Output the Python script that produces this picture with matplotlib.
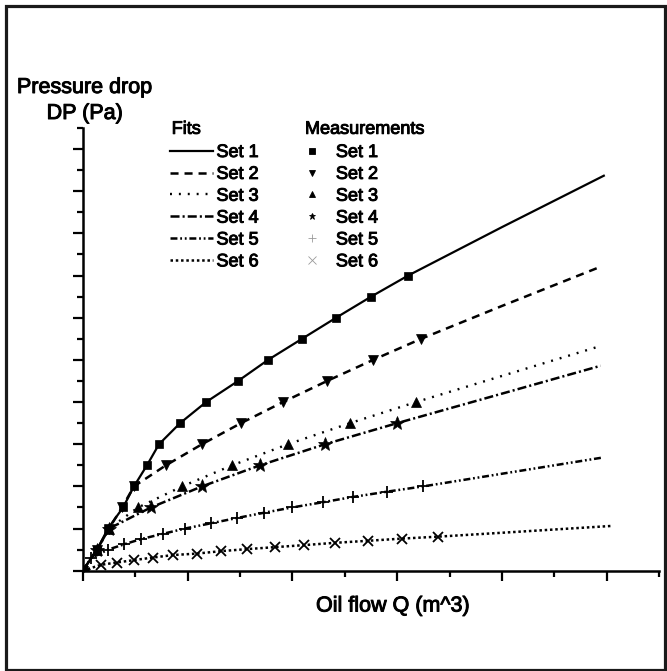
import matplotlib.pyplot as plt
import matplotlib.patheffects as pe
from matplotlib.lines import Line2D
from matplotlib.patches import Rectangle
from matplotlib.ticker import MultipleLocator

plt.rcParams['font.family'] = ['Liberation Sans', 'DejaVu Sans']
plt.rcParams['lines.scale_dashes'] = False

q1 = [0, 0.137, 0.241, 0.385, 0.489, 0.613, 0.728, 0.929, 1.177, 1.482, 1.768, 2.092, 2.417, 2.751, 3.104]
dp1 = [0, 0.5, 1.0, 1.5, 2.0, 2.5, 3.0, 3.5, 4.0, 4.5, 5.0, 5.5, 6.0, 6.5, 7.0]
q2 = [0, 0.137, 0.251, 0.375, 0.489, 0.794, 1.138, 1.51, 1.911, 2.331, 2.77, 3.228]
dp2 = [0, 0.5, 1.0, 1.5, 2.0, 2.5, 3.0, 3.5, 4.0, 4.5, 5.0, 5.5]
q3 = [0, 0.137, 0.251, 0.528, 0.949, 1.426, 1.958, 2.55, 3.18]
dp3 = [0, 0.5, 1.0, 1.5, 2.0, 2.5, 3.0, 3.5, 4.0]
q4 = [0, 0.137, 0.251, 0.651, 1.138, 1.692, 2.312, 3.0]
dp4 = [0, 0.5, 1.0, 1.5, 2.0, 2.5, 3.0, 3.5]
q5 = [0, 0.08, 0.242, 0.394, 0.556, 0.766, 0.976, 1.224, 1.472, 1.73, 1.997, 2.293, 2.579, 2.904, 3.248]
dp5 = [0, 0.3, 0.5, 0.625, 0.75, 0.875, 1.0, 1.125, 1.25, 1.375, 1.5, 1.625, 1.75, 1.875, 2.0]
q6 = [0, 0.175, 0.324, 0.49, 0.671, 0.865, 1.086, 1.32, 1.568, 1.835, 2.114, 2.405, 2.719, 3.044, 3.393]
dp6 = [0, 0.14, 0.194, 0.251, 0.313, 0.372, 0.405, 0.464, 0.512, 0.559, 0.607, 0.661, 0.709, 0.761, 0.808]

# fitted curves beyond the last measurement
fit_end_q1 = [4.0, 4.98]
fit_end_dp1 = [8.15, 9.38]
fit_end_q2 = [4.0, 4.93]
fit_end_dp2 = [6.28, 7.2]
fit_end_q3 = [4.0, 4.94]
fit_end_dp3 = [4.62, 5.33]
fit_end_q4 = [4.0, 4.94]
fit_end_dp4 = [4.2, 4.86]
fit_end_q5 = [4.0, 4.95]
fit_end_dp5 = [2.3, 2.68]
fit_end_q6 = [4.0, 5.06]
fit_end_dp6 = [0.9, 1.064]

labels = ['Set 1', 'Set 2', 'Set 3', 'Set 4', 'Set 5', 'Set 6']
markers = ['s', 'v', '^', '*', '+', 'x']
dashes = [(None, None), (0, (5.8, 4.3)), (0, (1.4, 5.0)), (0, (6.5, 2.2, 1.5, 2.2)),
          (0, (5.0, 2.0, 1.3, 2.0, 1.3, 2.0)), (0, (1.8, 2.0))]
widths = [1.6, 1.8, 1.7, 1.8, 1.8, 1.8]
msizes = [6.2, 7.5, 7.5, 10, 9, 7]

bold = [pe.withStroke(linewidth=0.7, foreground='black')]

fig = plt.figure(figsize=(6.67, 6.71), dpi=100)
ax = fig.add_axes([82.7 / 667, 1 - 570.7 / 671, 576.6 / 667, 442.7 / 671])

series = [(q1, dp1, fit_end_q1, fit_end_dp1), (q2, dp2, fit_end_q2, fit_end_dp2),
          (q3, dp3, fit_end_q3, fit_end_dp3), (q4, dp4, fit_end_q4, fit_end_dp4),
          (q5, dp5, fit_end_q5, fit_end_dp5), (q6, dp6, fit_end_q6, fit_end_dp6)]

fit_handles = []
meas_handles = []
for i, (q, dp, fq, fdp) in enumerate(series):
    ls = '-' if i == 0 else dashes[i]
    ax.plot(q + fq, dp + fdp, color='black', lw=widths[i], linestyle=ls,
            zorder=2, solid_capstyle='butt', dash_capstyle='butt')
    ax.plot(q, dp, linestyle='none', marker=markers[i], color='black',
            markersize=msizes[i], markeredgewidth=1.3 if i >= 4 else 0.5, zorder=3)
    fit_handles.append(Line2D([], [], color='black', lw=widths[i], linestyle=ls))
    mcol = '#9a9a9a' if i >= 4 else 'black'
    meas_handles.append(Line2D([], [], linestyle='none', marker=markers[i], color=mcol,
                               markersize=5 if i < 4 else 6, markeredgewidth=0.6))

ax.set_xlim(0, 5.5)
ax.set_ylim(0, 10.5)
ax.xaxis.set_major_locator(MultipleLocator(1))
ax.xaxis.set_minor_locator(MultipleLocator(0.5))
ax.yaxis.set_major_locator(MultipleLocator(1))
ax.yaxis.set_minor_locator(MultipleLocator(0.5))
ax.tick_params(which='major', direction='out', length=7, width=1.6,
               labelbottom=False, labelleft=False)
ax.tick_params(which='minor', direction='out', length=4.5, width=1.6)
for side in ['top', 'right']:
    ax.spines[side].set_visible(False)
for side in ['left', 'bottom']:
    ax.spines[side].set_linewidth(1.8)
ax.patch.set_alpha(0)

leg1 = ax.legend(fit_handles, labels, loc='upper left',
                 bbox_to_anchor=(169.5 / 667, 1 - 144 / 671), bbox_transform=fig.transFigure,
                 frameon=False, fontsize=13,
                 handlelength=2.4, handletextpad=0.2, labelspacing=0.27,
                 borderpad=0, borderaxespad=0)
ax.add_artist(leg1)
leg2 = ax.legend(meas_handles, labels, loc='upper left',
                 bbox_to_anchor=(302.5 / 667, 1 - 144 / 671), bbox_transform=fig.transFigure,
                 frameon=False, fontsize=13,
                 handlelength=1.0, handletextpad=0.85, labelspacing=0.27,
                 borderpad=0, borderaxespad=0)
for leg in (leg1, leg2):
    for t in leg.get_texts():
        t.set_path_effects(bold)

fig.text(171.7 / 667, 1 - 133.8 / 671, 'Fits', ha='left', va='baseline',
         fontsize=13, path_effects=bold)
fig.text(305 / 667, 1 - 133.8 / 671, 'Measurements', ha='left', va='baseline',
         fontsize=13, path_effects=bold)

fig.text(84.5 / 667, 1 - 93 / 671, 'Pressure drop', ha='center', va='baseline',
         fontsize=15.5, path_effects=bold)
fig.text(84.5 / 667, 1 - 119 / 671, 'DP (Pa)', ha='center', va='baseline',
         fontsize=15.5, path_effects=bold)
fig.text(316 / 667, 1 - 611.5 / 671, 'Oil flow Q (m^3)', ha='left', va='baseline',
         fontsize=15.5, path_effects=bold)

fig.patches.append(Rectangle((5.5 / 667, 1.5 / 671), 659 / 667, 664 / 671,
                             transform=fig.transFigure, fill=False,
                             edgecolor='#1a1a1a', lw=2.3, zorder=10))

fig.savefig('out.png', dpi=100)
